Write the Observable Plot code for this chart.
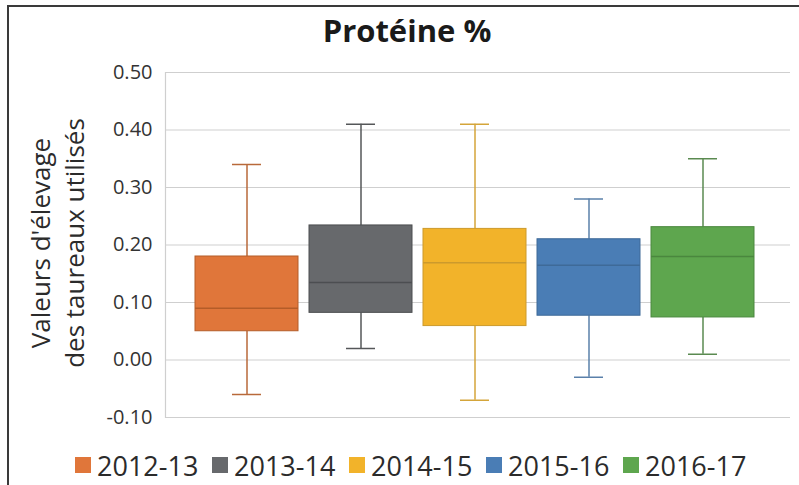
<!DOCTYPE html>
<html>
<head>
<meta charset="utf-8">
<script src="https://cdn.jsdelivr.net/npm/d3@7"></script>
<script src="https://cdn.jsdelivr.net/npm/@observablehq/plot@0.6"></script>
<style>
  html, body { margin: 0; padding: 0; background: #fff; }
  #wrap { position: relative; width: 799px; height: 485px; overflow: hidden; font-family: "Open Sans", sans-serif; background: #fff; }
  #bl { position: absolute; left: 7px; top: 5px; width: 2px; height: 480px; background: #3a3a3a; }
  #bt { position: absolute; left: 7px; top: 5px; width: 792px; height: 2px; background: #3a3a3a; }
  #title { position: absolute; left: 15px; top: 7px; width: 784px; text-align: center; font-weight: 700; font-size: 31px; color: #1a1a1a; line-height: 46px; }
  #ylab { position: absolute; left: -93px; top: 209px; width: 300px; height: 68px; text-align: center; font-size: 26px; line-height: 34px; color: #2b2b2b; transform: rotate(-90deg); white-space: nowrap; }
  #chart { position: absolute; left: 0; top: 52px; }
  #legend { position: absolute; left: 75px; top: 446px; height: 38px; display: flex; align-items: center; }
  .item { display: flex; align-items: center; width: 137px; font-size: 27px; color: #2b2b2b; }
  .sw { width: 16px; height: 16px; margin-right: 6px; flex: none; }
</style>
</head>
<body>
<div id="wrap">
  <div id="bl"></div>
  <div id="bt"></div>
  <div id="title">Protéine %</div>
  <div id="ylab">Valeurs d'élevage<br>des taureaux utilisés</div>
  <div id="chart"></div>
  <div id="legend"></div>
</div>
<script>
const seasons = ["2012-13", "2013-14", "2014-15", "2015-16", "2016-17"];
const whiskerLow = [-0.06, 0.02, -0.07, -0.03, 0.01];
const q1 = [0.05, 0.082, 0.059, 0.077, 0.074];
const median = [0.09, 0.135, 0.169, 0.165, 0.18];
const q3 = [0.18, 0.234, 0.228, 0.21, 0.231];
const whiskerHigh = [0.34, 0.41, 0.41, 0.28, 0.35];
const fills = ["#E0763A", "#67696C", "#F2B32A", "#4A7DB5", "#5EA64E"];
const strokes = ["#B45C28", "#4C4E51", "#CC9A2C", "#3E6A98", "#4A873E"];
const whiskerColors = ["#B8693A", "#555759", "#D4A53A", "#5A80AA", "#5A8A50"];
const yTicks = [-0.1, 0, 0.1, 0.2, 0.3, 0.4, 0.5];

const data = seasons.map((s, i) => ({
  season: s, lo: whiskerLow[i], q1: q1[i], med: median[i], q3: q3[i], hi: whiskerHigh[i],
  fill: fills[i], stroke: strokes[i], wc: whiskerColors[i]
}));

const chart = Plot.plot({
  width: 799,
  height: 385,
  marginTop: 20,
  marginBottom: 20,
  marginLeft: 165,
  marginRight: 9,
  style: { fontFamily: "Open Sans, sans-serif", background: "transparent" },
  x: { type: "band", domain: seasons, range: [193, 757], paddingInner: 0.094, paddingOuter: 0, axis: null },
  y: { domain: [-0.1, 0.5] },
  color: { type: "identity" },
  marks: [
    Plot.ruleY(yTicks, { stroke: "#cfcfcf", strokeWidth: 1.2 }),
    Plot.frame({ anchor: "left", stroke: "#cfcfcf", strokeWidth: 1.2 }),
    Plot.axisY({ ticks: yTicks, tickSize: 0, tickPadding: 13, tickFormat: d => d.toFixed(2), fontSize: 20, fill: "#333", label: null }),
    Plot.ruleX(data, { x: "season", y1: "lo", y2: "q1", stroke: "wc", strokeWidth: 1.5 }),
    Plot.ruleX(data, { x: "season", y1: "q3", y2: "hi", stroke: "wc", strokeWidth: 1.5 }),
    Plot.tickY(data, { x: "season", y: "lo", stroke: "wc", strokeWidth: 1.5, insetLeft: 37, insetRight: 37 }),
    Plot.tickY(data, { x: "season", y: "hi", stroke: "wc", strokeWidth: 1.5, insetLeft: 37, insetRight: 37 }),
    Plot.barY(data, { x: "season", y1: "q1", y2: "q3", fill: "fill", stroke: "stroke", strokeWidth: 1 }),
    Plot.tickY(data, { x: "season", y: "med", stroke: "stroke", strokeWidth: 1.5 })
  ]
});
document.getElementById("chart").appendChild(chart);

const legend = document.getElementById("legend");
seasons.forEach((s, i) => {
  const item = document.createElement("div");
  item.className = "item";
  const sw = document.createElement("div");
  sw.className = "sw";
  sw.style.background = fills[i];
  const t = document.createElement("span");
  t.textContent = s;
  item.appendChild(sw);
  item.appendChild(t);
  legend.appendChild(item);
});
</script>
</body>
</html>
